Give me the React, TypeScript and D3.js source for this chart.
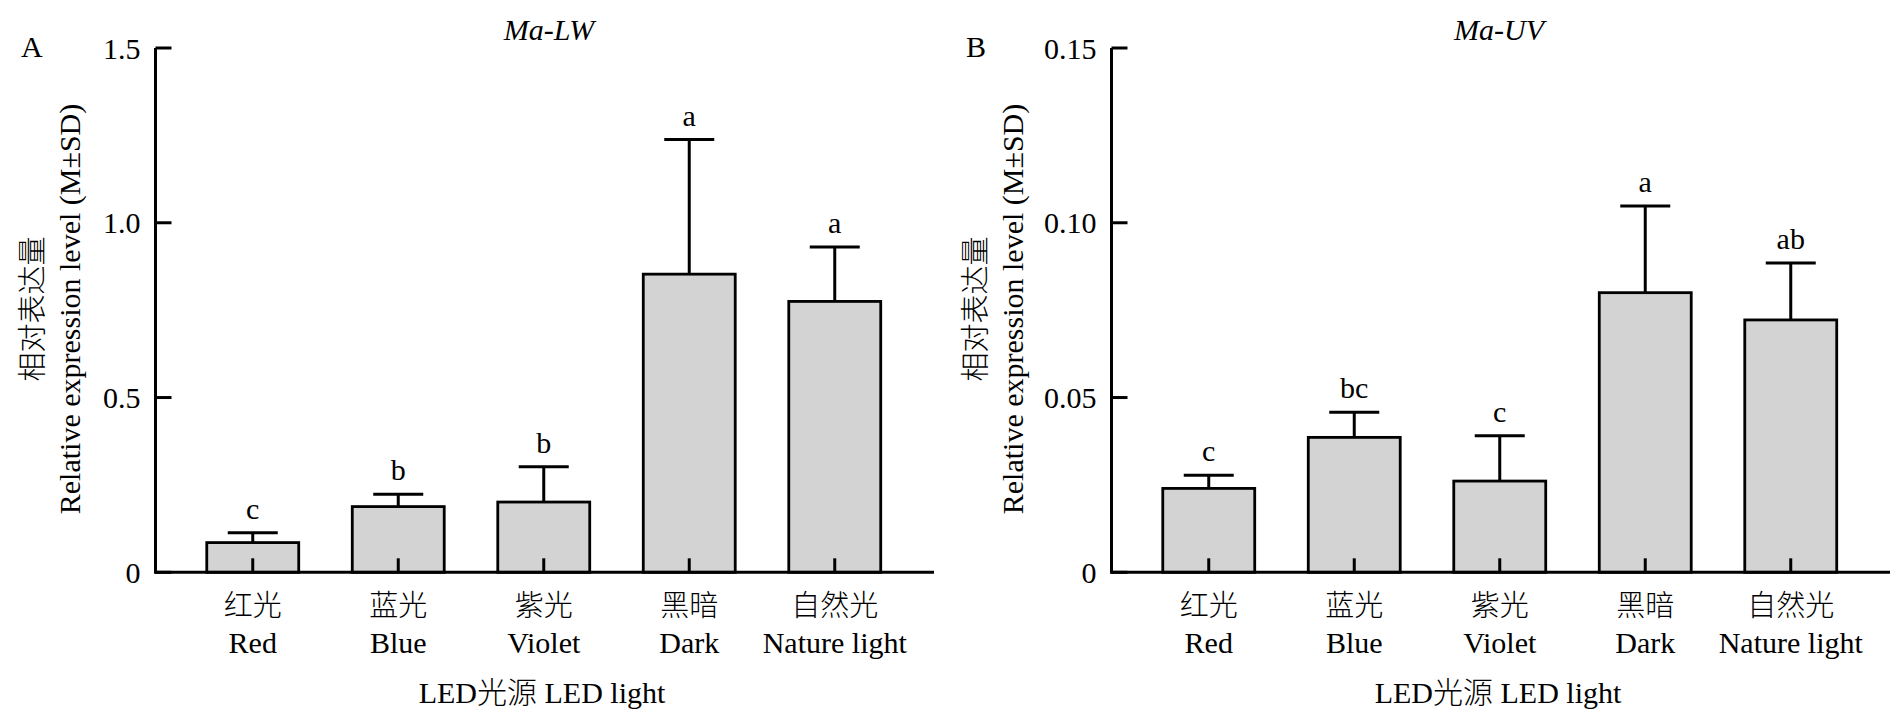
import * as d3 from "d3";

const categoriesZh = ["红光", "蓝光", "紫光", "黑暗", "自然光"];
const categoriesEn = ["Red", "Blue", "Violet", "Dark", "Nature light"];

// Ma-LW
const lwMean = [0.085, 0.188, 0.201, 0.853, 0.775];
const lwSd = [0.028, 0.035, 0.101, 0.385, 0.156];
const lwLetters = ["c", "b", "b", "a", "a"];
const lwTicks = [0, 0.5, 1.0, 1.5];
const lwTickLabels = ["0", "0.5", "1.0", "1.5"];

// Ma-UV
const uvMean = [0.024, 0.0386, 0.0261, 0.08, 0.0722];
const uvSd = [0.0038, 0.0072, 0.013, 0.0248, 0.0163];
const uvLetters = ["c", "bc", "c", "a", "ab"];
const uvTicks = [0, 0.05, 0.1, 0.15];
const uvTickLabels = ["0", "0.05", "0.10", "0.15"];

const FONT = "'Liberation Serif', 'Times New Roman', 'Noto Sans CJK SC', serif";
const CJK = "'Noto Sans CJK SC', sans-serif";
const FS = 30;

type PanelProps = {
  dx: number;
  tag: string;
  tagX: number;
  title: string;
  titleX: number;
  mean: number[];
  sd: number[];
  letters: string[];
  ticks: number[];
  tickLabels: string[];
  labelX: number;
  xTitleX: number;
};

function Panel({
  dx,
  tag,
  tagX,
  title,
  titleX,
  mean,
  sd,
  letters,
  ticks,
  tickLabels,
  labelX,
  xTitleX,
}: PanelProps) {
  const x0 = 155.5 + dx;
  const x1 = 934 + dx;
  const y = d3
    .scaleLinear()
    .domain([0, ticks[ticks.length - 1]])
    .range([572.3, 48]);
  const x = d3
    .scaleBand<string>()
    .domain(categoriesEn)
    .range([180 + dx, 907.5 + dx])
    .paddingInner(0.368)
    .paddingOuter(0.184);
  const bw = x.bandwidth();
  const cap = 25;

  return (
    <g>
      <text x={tagX} y={57} fontSize={FS}>
        {tag}
      </text>
      <text x={titleX} y={40} fontSize={FS} fontStyle="italic" textAnchor="middle">
        {title}
      </text>

      {/* bars */}
      {categoriesEn.map((c, i) => {
        const cx = (x(c) as number) + bw / 2;
        const top = y(mean[i] + sd[i]);
        return (
          <g key={c}>
            <line x1={cx} x2={cx} y1={y(mean[i])} y2={top} stroke="#000" strokeWidth={3} />
            <line x1={cx - cap} x2={cx + cap} y1={top} y2={top} stroke="#000" strokeWidth={3} />
            <rect
              x={x(c)}
              y={y(mean[i])}
              width={bw}
              height={y(0) - y(mean[i])}
              fill="#d3d3d3"
              stroke="#000"
              strokeWidth={2.8}
            />
            <line x1={cx} x2={cx} y1={y(0)} y2={y(0) - 14} stroke="#000" strokeWidth={3} />
            <text x={cx} y={top - 14} fontSize={FS} textAnchor="middle">
              {letters[i]}
            </text>
            <text
              x={cx}
              y={615.5}
              fontSize={29}
              fontFamily={CJK}
              fontWeight={300}
              textAnchor="middle"
            >
              {categoriesZh[i]}
            </text>
            <text x={cx} y={652.7} fontSize={FS} textAnchor="middle">
              {c}
            </text>
          </g>
        );
      })}

      {/* axes */}
      <line x1={x0} x2={x0} y1={y(0) + 1.5} y2={y.range()[1]} stroke="#000" strokeWidth={3} />
      <line x1={x0} x2={x1} y1={y(0)} y2={y(0)} stroke="#000" strokeWidth={3} />
      {ticks.map((t, i) => (
        <g key={t}>
          <line x1={x0} x2={x0 + 16} y1={y(t)} y2={y(t)} stroke="#000" strokeWidth={3} />
          <text x={x0 - 15} y={y(t)} dy="0.35em" fontSize={FS} textAnchor="end">
            {tickLabels[i]}
          </text>
        </g>
      ))}

      {/* axis titles */}
      <text
        transform={`translate(${labelX},309) rotate(-90)`}
        fontSize={29}
        fontFamily={CJK}
        fontWeight={300}
        textAnchor="middle"
      >
        相对表达量
      </text>
      <text
        transform={`translate(${labelX + 37},309) rotate(-90)`}
        fontSize={FS}
        textAnchor="middle"
      >
        Relative expression level (M±SD)
      </text>
      <text x={xTitleX} y={703} fontSize={FS} textAnchor="middle">
        LED
        <tspan fontFamily={CJK} fontWeight={300}>
          光源
        </tspan>{" "}
        LED light
      </text>
    </g>
  );
}

export default function App() {
  return (
    <svg
      width={1901}
      height={727}
      style={{ position: "absolute", left: 0, top: 0, background: "#fff" }}
      fontFamily={FONT}
    >
      <rect width={1901} height={727} fill="#fff" />
      <Panel
        dx={0}
        tag="A"
        tagX={21}
        title="Ma-LW"
        titleX={549}
        mean={lwMean}
        sd={lwSd}
        letters={lwLetters}
        ticks={lwTicks}
        tickLabels={lwTickLabels}
        labelX={43}
        xTitleX={542}
      />
      <Panel
        dx={956}
        tag="B"
        tagX={966}
        title="Ma-UV"
        titleX={1499}
        mean={uvMean}
        sd={uvSd}
        letters={uvLetters}
        ticks={uvTicks}
        tickLabels={uvTickLabels}
        labelX={986}
        xTitleX={1498}
      />
    </svg>
  );
}
